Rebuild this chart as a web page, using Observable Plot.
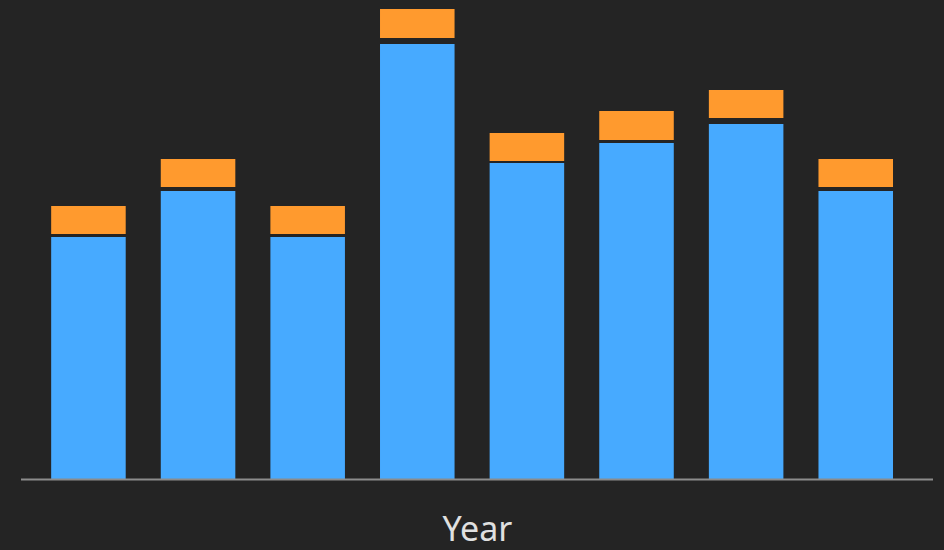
<!DOCTYPE html>
<html>
<head>
<meta charset="utf-8">
<script src="https://cdn.jsdelivr.net/npm/d3@7"></script>
<script src="https://cdn.jsdelivr.net/npm/@observablehq/plot@0.6"></script>
<style>
  html, body { margin: 0; padding: 0; background: #242424; }
  #chart svg { display: block; }
</style>
</head>
<body>
<div id="chart"></div>
<script>
const years = ["2015", "2016", "2017", "2018", "2019", "2020", "2021", "2022"];
const mainValues = [242, 288, 242, 435, 316, 336, 355, 288];
const gapValues = [3, 4, 3, 6, 2, 3, 6, 4];
const topValues = [28, 28, 28, 29, 28, 29, 28, 28];
const seriesNames = ["Main", "Gap", "Top"];
const seriesColors = ["#47aaff", "transparent", "#ff9a2e"];
const xLabel = "Year";

const data = [];
years.forEach((year, i) => {
  data.push({year, series: "Main", value: mainValues[i]});
  data.push({year, series: "Gap", value: gapValues[i]});
  data.push({year, series: "Top", value: topValues[i]});
});

const chart = Plot.plot({
  width: 944,
  height: 550,
  marginLeft: 21,
  marginRight: 11,
  marginTop: 9,
  marginBottom: 71,
  style: {background: "#242424", color: "#e0e0e0", fontFamily: "'Noto Sans', 'Open Sans', sans-serif"},
  x: {domain: years, padding: 0.32, align: 0.43, round: false, axis: null},
  y: {domain: [0, 470], axis: null},
  color: {domain: seriesNames, range: seriesColors},
  marks: [
    Plot.barY(data, Plot.stackY({
      x: "year",
      y: "value",
      z: "series",
      fill: "series",
      order: seriesNames
    })),
    Plot.ruleY([0], {stroke: "#8c8c8c", strokeWidth: 2}),
    Plot.text([xLabel], {
      frameAnchor: "bottom",
      text: d => d,
      dy: 51,
      fontSize: 34,
      fill: "#e0e0e0",
      lineAnchor: "middle"
    })
  ]
});
document.getElementById("chart").appendChild(chart);
</script>
</body>
</html>
